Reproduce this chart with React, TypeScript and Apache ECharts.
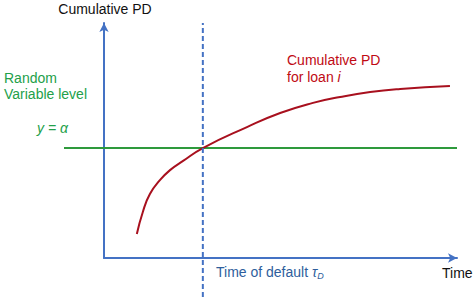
import React, { useEffect, useRef } from "react";
import * as echarts from "echarts";

// Time axis (arbitrary units) and cumulative PD values
const curveTime = [0.93, 1.1, 1.3, 1.59, 1.87, 2.24, 2.8, 4.05, 4.99, 5.92, 6.69, 7.54, 8.39, 9.8];
const curvePD = [0.102, 0.196, 0.272, 0.332, 0.374, 0.413, 0.468, 0.557, 0.617, 0.66, 0.685, 0.706, 0.719, 0.732];

const timeMax = 10;
const pdMax = 1;
const alphaLevel = 0.468; // y = α
const tauD = 2.8; // time of default
const levelLineStart = -1.133; // green line starts left of the PD axis
const dashedLineBottom = -0.166; // dashed line runs below the time axis

const FONT = "'Liberation Sans', Arial, sans-serif";

export default function App() {
  const ref = useRef<HTMLDivElement>(null);
  useEffect(() => {
    if (!ref.current) return;
    const chart = echarts.init(ref.current, null, { renderer: "svg" });
    const curveData = curveTime.map((t, i) => [t, curvePD[i]]);
    const axisCommon = {
      type: "value" as const,
      axisTick: { show: false },
      axisLabel: { show: false },
      splitLine: { show: false },
    };
    chart.setOption({
      animation: false,
      backgroundColor: "#ffffff",
      grid: [
        { left: 104, right: 17, top: 23, bottom: 39 },
        { left: 64, right: 17, top: 23, bottom: 0 },
      ],
      xAxis: [
        {
          ...axisCommon,
          gridIndex: 0,
          min: 0,
          max: timeMax,
          axisLine: {
            show: true,
            symbol: ["none", "arrow"],
            symbolSize: [7, 9],
            lineStyle: { color: "#4472c4", width: 2 },
          },
        },
        { ...axisCommon, gridIndex: 1, min: levelLineStart, max: timeMax, show: false },
      ],
      yAxis: [
        {
          ...axisCommon,
          gridIndex: 0,
          min: 0,
          max: pdMax,
          axisLine: {
            show: true,
            symbol: ["none", "arrow"],
            symbolSize: [7, 9],
            lineStyle: { color: "#4472c4", width: 2 },
          },
        },
        { ...axisCommon, gridIndex: 1, min: dashedLineBottom, max: pdMax, show: false },
      ],
      series: [
        {
          type: "line",
          xAxisIndex: 1,
          yAxisIndex: 1,
          data: [
            [levelLineStart, alphaLevel],
            [timeMax, alphaLevel],
          ],
          symbol: "none",
          lineStyle: { color: "#2e9a3c", width: 2 },
        },
        {
          type: "line",
          xAxisIndex: 0,
          yAxisIndex: 0,
          data: curveData,
          smooth: true,
          symbol: "none",
          lineStyle: { color: "#a8101e", width: 2 },
        },
        {
          type: "line",
          xAxisIndex: 1,
          yAxisIndex: 1,
          data: [
            [tauD, dashedLineBottom],
            [tauD, pdMax],
          ],
          symbol: "none",
          lineStyle: { color: "#4472c4", width: 2, type: [5, 3] },
        },
      ],
      graphic: [
        {
          type: "text",
          x: 105,
          y: 9,
          style: {
            text: "Cumulative PD",
            fill: "#111111",
            font: `14px ${FONT}`,
            align: "center",
            verticalAlign: "middle",
          },
        },
        {
          type: "text",
          x: 4,
          y: 78,
          style: {
            text: "Random",
            fill: "#23a04a",
            font: `14px ${FONT}`,
            verticalAlign: "middle",
          },
        },
        {
          type: "text",
          x: 4,
          y: 94,
          style: {
            text: "Variable level",
            fill: "#23a04a",
            font: `14px ${FONT}`,
            verticalAlign: "middle",
          },
        },
        {
          type: "text",
          x: 37,
          y: 128,
          style: {
            text: "y = α",
            fill: "#23a04a",
            font: `italic 14px ${FONT}`,
            verticalAlign: "middle",
          },
        },
        {
          type: "text",
          x: 287,
          y: 60,
          style: {
            text: "Cumulative PD",
            fill: "#c00a14",
            font: `14px ${FONT}`,
            verticalAlign: "middle",
          },
        },
        {
          type: "text",
          x: 287,
          y: 77,
          style: {
            text: "{n|for loan }{i|i}",
            verticalAlign: "middle",
            rich: {
              n: { fill: "#c00a14", font: `14px ${FONT}` },
              i: { fill: "#c00a14", font: `italic 14px ${FONT}` },
            },
          },
        },
        {
          type: "text",
          x: 216,
          y: 272,
          style: {
            text: "{n|Time of default }{t|τ}{s|D}",
            verticalAlign: "middle",
            rich: {
              n: { fill: "#2e5e9c", font: `14px ${FONT}` },
              t: { fill: "#2e5e9c", font: `italic 14px ${FONT}` },
              s: { fill: "#2e5e9c", font: `italic 9px ${FONT}`, padding: [8, 0, 0, 0] },
            },
          },
        },
        {
          type: "text",
          x: 442,
          y: 273,
          style: {
            text: "Time",
            fill: "#111111",
            font: `14px ${FONT}`,
            verticalAlign: "middle",
          },
        },
      ],
    });
    return () => chart.dispose();
  }, []);
  return (
    <div
      ref={ref}
      style={{ width: 474, height: 297, position: "fixed", left: 0, top: 0, background: "#fff" }}
    />
  );
}
